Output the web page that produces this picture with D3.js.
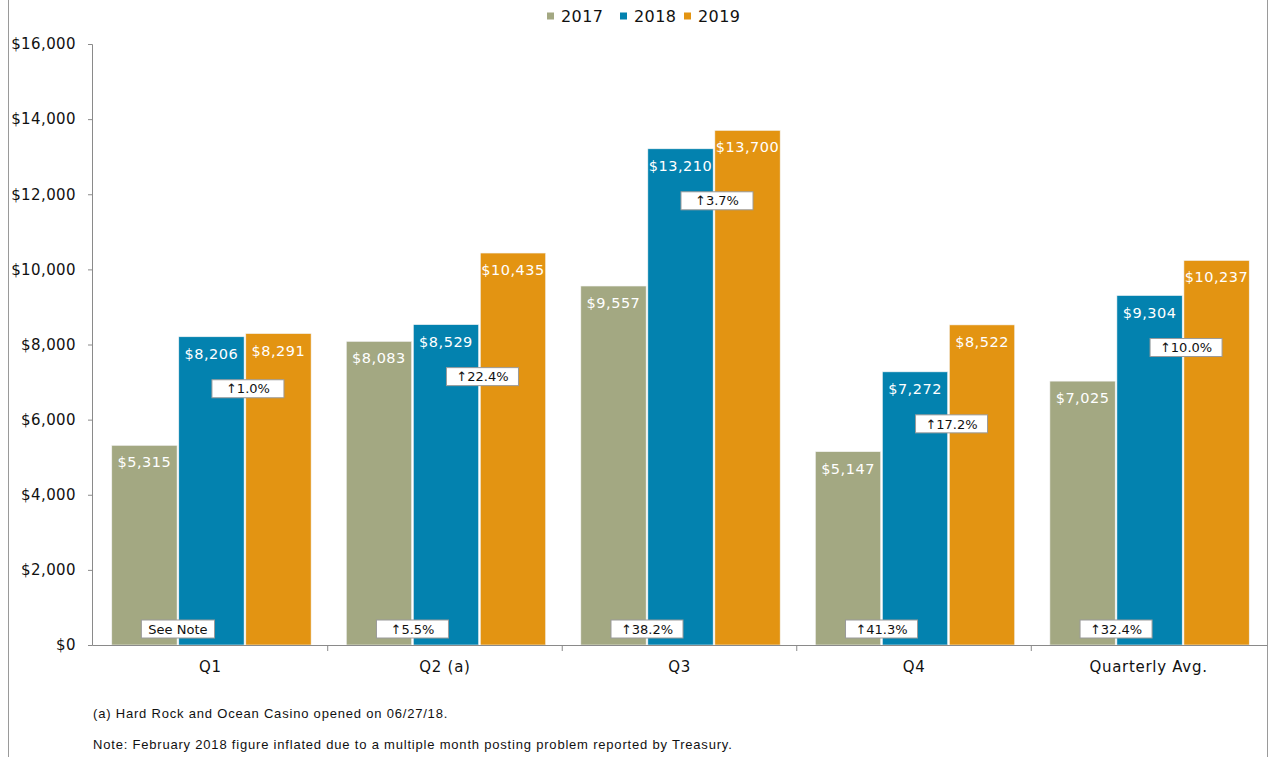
<!DOCTYPE html>
<html>
<head>
<meta charset="utf-8">
<script src="https://cdn.jsdelivr.net/npm/d3@7"></script>
<style>
  body { margin: 0; background: #fff; }
  svg { display: block; }
  .tick text { font-family: "DejaVu Sans", sans-serif; }
</style>
</head>
<body>
<div id="chart"></div>
<script>
// Data
const categories = ["Q1", "Q2 (a)", "Q3", "Q4", "Quarterly Avg."];
const years = ["2017", "2018", "2019"];
const values2017 = [5315, 8083, 9557, 5147, 7025];
const values2018 = [8206, 8529, 13210, 7272, 9304];
const values2019 = [8291, 10435, 13700, 8522, 10237];
const upperNotes = ["\u21911.0%", "\u219122.4%", "\u21913.7%", "\u219117.2%", "\u219110.0%"];
const lowerNotes = ["See Note", "\u21915.5%", "\u219138.2%", "\u219141.3%", "\u219132.4%"];
const yTicks = [0, 2000, 4000, 6000, 8000, 10000, 12000, 14000, 16000];
const footnotes = [
  "(a) Hard Rock and Ocean Casino opened on 06/27/18.",
  "Note: February 2018 figure inflated due to a multiple month posting problem reported by Treasury."
];
const colors = {"2017": "#A3A882", "2018": "#0382AF", "2019": "#E39412"};

const width = 1270, height = 757;
// plot area
const plot = {top: 44, right: 1267, bottom: 645, left: 92};

const series = {"2017": values2017, "2018": values2018, "2019": values2019};
const rows = categories.map((c, i) => ({cat: c, i, vals: years.map(y => ({year: y, v: series[y][i]}))}));

const svg = d3.select('#chart').append('svg')
  .attr('width', width).attr('height', height);

// frame lines
svg.append('line').attr('x1', 8.5).attr('x2', 8.5).attr('y1', 0).attr('y2', height)
  .attr('stroke', '#9a9a9a');
svg.append('line').attr('x1', plot.right + 0.5).attr('x2', plot.right + 0.5).attr('y1', 0).attr('y2', height)
  .attr('stroke', '#9a9a9a');

// scales
const x0 = d3.scaleBand().domain(categories).range([plot.left, plot.right])
  .paddingInner(0.15).paddingOuter(0.08);
const x1 = d3.scaleBand().domain(years).range([0, x0.bandwidth()]).paddingInner(0.025);
const y = d3.scaleLinear().domain([0, 16000]).range([plot.bottom, plot.top]);

// bars
const groups = svg.append('g').selectAll('g.grp')
  .data(rows).join('g').classed('grp', true)
  .attr('transform', d => `translate(${x0(d.cat) + 1},0)`);

groups.selectAll('rect.bar').data(d => d.vals).join('rect').classed('bar', true)
  .attr('x', d => x1(d.year))
  .attr('y', d => y(d.v))
  .attr('width', x1.bandwidth())
  .attr('height', d => y(0) - y(d.v))
  .attr('fill', d => colors[d.year])
  .attr('stroke', '#f4f4f4').attr('stroke-width', 0.6);

groups.selectAll('text.val').data(d => d.vals).join('text').classed('val', true)
  .attr('x', d => x1(d.year) + x1.bandwidth() / 2)
  .attr('y', d => y(d.v) + 22)
  .attr('text-anchor', 'middle')
  .style('font-family', '"DejaVu Sans", sans-serif')
  .style('font-size', '14.5px')
  .style('letter-spacing', '0.5px')
  .attr('fill', '#fff')
  .text(d => '$' + d3.format(',')(d.v));

// axes
const axisY = svg.append('g').attr('transform', `translate(${plot.left},0)`)
  .call(d3.axisLeft(y).tickValues(yTicks).tickSize(4).tickPadding(12)
    .tickFormat(d => '$' + d3.format(',')(d)));
axisY.select('.domain').attr('stroke', '#8a8a8a');
axisY.selectAll('.tick line').attr('stroke', '#8a8a8a');
axisY.selectAll('.tick text').style('font-size', '15px').style('letter-spacing', '0.4px').attr('fill', '#111');

const axisX = svg.append('g').attr('transform', `translate(0,${plot.bottom})`)
  .call(d3.axisBottom(x0).tickSize(0).tickPadding(16));
axisX.select('.domain').attr('stroke', '#8a8a8a');
axisX.selectAll('.tick text').style('font-size', '15px').style('letter-spacing', '0.7px').attr('fill', '#111');
// category separators
svg.append('g').selectAll('line').data(categories.slice(1)).join('line')
  .attr('x1', d => x0(d) - x0.step() * x0.paddingInner() / 2)
  .attr('x2', d => x0(d) - x0.step() * x0.paddingInner() / 2)
  .attr('y1', plot.bottom).attr('y2', plot.bottom + 6)
  .attr('stroke', '#8a8a8a');

// note boxes
function noteBox(g, cx, cy, label) {
  const t = g.append('text')
    .attr('x', cx).attr('y', cy).attr('dy', '0.36em')
    .attr('text-anchor', 'middle')
    .style('font-family', '"DejaVu Sans", sans-serif')
    .style('font-size', '13px')
    .attr('fill', '#111')
    .text(label);
  const w = Math.max(72, t.node().getComputedTextLength() + 14);
  g.insert('rect', 'text')
    .attr('x', cx - w / 2).attr('y', cy - 9)
    .attr('width', w).attr('height', 18)
    .attr('fill', '#fff').attr('stroke', '#9a9a9a');
}

rows.forEach(r => {
  const base = x0(r.cat) + 1;
  const upX = base + x1('2019') - x1.step() * x1.paddingInner() / 2 + 3;
  const lowX = base + x1('2018') - x1.step() * x1.paddingInner() / 2;
  noteBox(svg.append('g'), upX, y(values2018[r.i]) + 52, upperNotes[r.i]);
  noteBox(svg.append('g'), lowX, plot.bottom - 16, lowerNotes[r.i]);
});

// legend
const legend = svg.append('g').attr('transform', 'translate(547,16)');
const legX = [0, 73, 137];
years.forEach((yr, i) => {
  const g = legend.append('g').attr('transform', `translate(${legX[i]},0)`);
  g.append('rect').attr('x', 0).attr('y', -3.5).attr('width', 7).attr('height', 7)
    .attr('fill', colors[yr]);
  g.append('text').attr('x', 14).attr('y', 0).attr('dy', '0.36em')
    .style('font-family', '"DejaVu Sans", sans-serif')
    .style('font-size', '16px').style('letter-spacing', '0.4px').attr('fill', '#111')
    .text(yr);
});

// footnotes
svg.append('g').selectAll('text').data(footnotes).join('text')
  .attr('x', 93).attr('y', (d, i) => 718 + i * 31)
  .style('font-family', '"Liberation Sans Narrow", "Liberation Sans", sans-serif')
  .style('font-size', '13px').style('letter-spacing', '0.8px').attr('fill', '#111')
  .text(d => d);
</script>
</body>
</html>
